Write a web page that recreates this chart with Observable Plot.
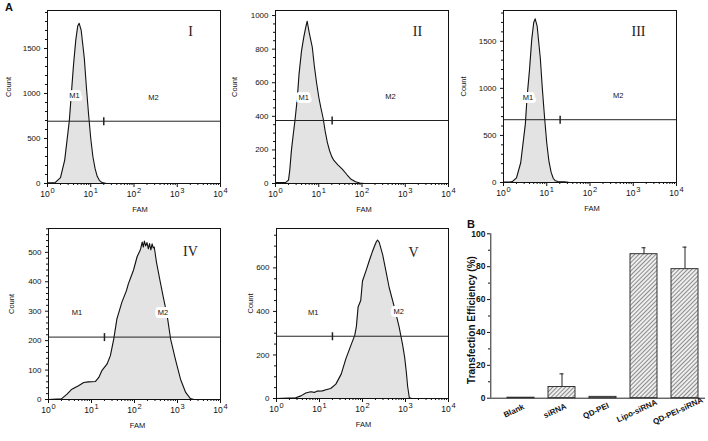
<!DOCTYPE html>
<html><head><meta charset="utf-8">
<script src="https://cdn.jsdelivr.net/npm/d3@7"></script>
<script src="https://cdn.jsdelivr.net/npm/@observablehq/plot@0.6"></script>
<style>
body{margin:0;background:#fff;}
#root{position:relative;width:708px;height:441px;overflow:hidden;font-family:"Liberation Sans",Arial,sans-serif;color:#111;}
#root svg{position:absolute;overflow:visible;}
.plabel{position:absolute;font-weight:bold;font-size:11px;line-height:11px;}
.ylab{position:absolute;font-weight:bold;font-size:10px;line-height:10px;white-space:nowrap;transform:translate(-50%,-50%) rotate(-90deg);}
</style></head><body><div id="root"></div>
<script>
// ---------- histogram data (FAM channel value, cell count) ----------
const famI   = [1, 1.26, 1.5, 2.0, 2.5, 3.2, 3.5, 4.0, 4.5, 5.0, 5.4, 6.0, 7.1, 7.9, 8.9, 10, 11.2, 12.6, 14.1, 15.8, 18.2, 22, 30, 10000];
const countI = [8, 8, 10, 65, 260, 700, 950, 1320, 1590, 1750, 1780, 1705, 1390, 1080, 770, 500, 300, 165, 80, 35, 10, 2, 0, 0];

const famII   = [1, 1.7, 2.0, 2.14, 2.34, 2.57, 2.82, 3.2, 3.5, 4.0, 4.5, 5.0, 5.4, 6.0, 7.1, 7.9, 8.9, 10, 11.2, 12.6, 14.1, 15.8, 17.8, 20, 22.4, 28, 35, 45, 56, 71, 89, 112, 10000];
const countII = [5, 5, 20, 80, 200, 290, 375, 510, 650, 790, 870, 930, 966, 900, 810, 700, 600, 515, 450, 390, 310, 245, 195, 160, 137, 110, 85, 52, 25, 10, 3, 0, 0];

const famIII   = [1, 1.4, 1.6, 2.0, 2.5, 3.2, 3.5, 4.0, 4.5, 5.0, 5.4, 6.0, 7.1, 7.9, 8.9, 10, 11.2, 12.6, 14.1, 15.8, 18.2, 25, 32, 40, 10000];
const countIII = [5, 5, 10, 50, 210, 620, 900, 1200, 1520, 1700, 1738, 1660, 1320, 1000, 690, 420, 230, 110, 45, 18, 10, 8, 2, 0, 0];

const famIV   = [1, 2.0, 2.7, 3.5, 5.0, 6.6, 8.5, 12.3, 14.8, 17.4, 22.9, 27.5, 33, 39, 51, 65, 72, 95, 115, 138, 151, 160, 170, 182, 195, 210, 224, 240, 257, 272, 288, 324, 398, 479, 575, 692, 891, 1175, 1549, 1995, 2400, 10000];
const countIV = [0, 2, 18, 35, 47, 58, 60, 61, 75, 98, 120, 149, 206, 274, 331, 370, 393, 440, 485, 510, 535, 518, 538, 522, 533, 512, 530, 508, 529, 515, 518, 467, 399, 340, 285, 205, 137, 69, 24, 3, 0, 0];

const famV   = [1, 2.8, 3.7, 4.8, 6.3, 7.6, 8.9, 11.7, 14.1, 18.2, 24, 32, 41, 54, 66, 72, 79, 91, 100, 120, 145, 170, 195, 210, 224, 245, 295, 347, 417, 550, 708, 851, 955, 1047, 1122, 1230, 1413, 10000];
const countV = [0, 3, 12, 25, 31, 28, 34, 35, 40, 46, 66, 112, 182, 245, 290, 330, 420, 450, 540, 585, 635, 675, 705, 720, 728, 717, 660, 590, 510, 420, 330, 250, 190, 120, 55, 3, 0, 0];

// gates (marker boundary on FAM, line level in counts)
const gateLevels = [692, 375, 667, 212, 286];
const gateMarkers = [20, 20.4, 20.4, 20, 20];

// axis ticks
const decades = [1, 10, 100, 1000, 10000];
const decadeExponents = ["0", "1", "2", "3", "4"];

// ---------- bar chart data ----------
const groups = ["Blank", "siRNA", "QD-PEI", "Lipo-siRNA", "QD-PEI-siRNA"];
const efficiency = [0.3, 6.8, 0.8, 87.6, 78.5];
const errorUp = [0, 8, 0, 3.9, 13.4];
const effTicks = [0, 20, 40, 60, 80, 100];

const root = document.getElementById("root");
const FONT = "Liberation Sans, Arial, sans-serif";
const minorX = decades.slice(0, 4).flatMap(d => [2, 3, 4, 5, 6, 7, 8, 9].map(k => d * k));
const vtick = {draw(ctx) { ctx.moveTo(0, -4); ctx.lineTo(0, 4); }};

const panels = [
  {id: "I",   fam: famI,   count: countI,   yMax: 1922, yMajor: 500, yMinor: 100, m1: [4.2, 978], m2: [282, 955], box: [47, 220, 10, 183],  rdx: -30, rdy: 16, cdx: 39, fdx: 6},
  {id: "II",  fam: famII,  count: countII,  yMax: 1030, yMajor: 200, yMinor: 50,  m1: [4.5, 514], m2: [457, 520], box: [275, 448, 10, 183], rdx: -31, rdy: 16, cdx: 41, fdx: 2},
  {id: "III", fam: famIII, count: countIII, yMax: 1827, yMajor: 500, yMinor: 100, m1: [3.7, 904], m2: [447, 922], box: [503, 676, 10, 182], rdx: -38, rdy: 16, cdx: 40, fdx: 2},
  {id: "IV",  fam: famIV,  count: countIV,  yMax: 581,  yMajor: 100, yMinor: 20,  m1: [4.6, 295], m2: [458, 295], box: [48, 220, 228, 399], rdx: -30, rdy: 18, cdx: 37, fdx: 3},
  {id: "V",   fam: famV,   count: countV,   yMax: 781,  yMajor: 200, yMinor: 50,  m1: [7.1, 393], m2: [692, 397], box: [276, 448, 228, 398], rdx: -35, rdy: 19, cdx: 26, fdx: 1}
];

panels.forEach((p, k) => {
  const [fx0, fx1, fy0, fy1] = p.box;
  const mL = 50, mR = 10, mT = 10, mB = 36;
  const data = p.fam.map((f, i) => ({fam: f, count: p.count[i]}));
  const majorY = d3.range(0, p.yMax + 1e-9, p.yMajor);
  const minorY = d3.range(0, p.yMax + 1e-9, p.yMinor).filter(v => v % p.yMajor !== 0);
  const svg = Plot.plot({
    width: fx1 - fx0 + mL + mR, height: fy1 - fy0 + mT + mB,
    marginLeft: mL, marginRight: mR, marginTop: mT, marginBottom: mB,
    style: {fontFamily: FONT, fontSize: "8px", background: "transparent", color: "#111", overflow: "visible"},
    x: {type: "log", domain: [1, 10000], label: null},
    y: {domain: [0, p.yMax], label: null},
    marks: [
      Plot.areaY(data, {x: "fam", y: "count", fill: "#e3e3e3"}),
      Plot.lineY(data, {x: "fam", y: "count", stroke: "#111", strokeWidth: 1.1}),
      Plot.ruleY([gateLevels[k]], {stroke: "#222", strokeWidth: 1}),
      Plot.dot([{x: gateMarkers[k], y: gateLevels[k]}], {x: "x", y: "y", symbol: vtick, fill: "none", stroke: "#222", r: 4}),
      Plot.text([{x: p.m1[0], y: p.m1[1], t: "M1"}, {x: p.m2[0], y: p.m2[1], t: "M2"}],
        {x: "x", y: "y", text: "t", fill: "#111", stroke: "white", strokeWidth: 6, fontSize: 7.5}),
      Plot.text([p.id], {text: d => d, frameAnchor: "top-right", dx: p.rdx, dy: p.rdy, textAnchor: "middle",
        fontFamily: "Liberation Serif, DejaVu Serif, serif", fontSize: 14, fill: "#222"}),
      Plot.text(["Count"], {text: d => d, frameAnchor: "left", dx: -p.cdx, rotate: -90, fontSize: 7.5}),
      Plot.text(["FAM"], {text: d => d, frameAnchor: "bottom", dy: 28, dx: p.fdx, fontSize: 7.5}),
      Plot.axisX({ticks: decades, tickFormat: d => "10^" + decadeExponents[decades.indexOf(d)], tickSize: 4, tickPadding: 3, label: null, fontSize: 8.5}),
      Plot.axisX({ticks: minorX, tickSize: 2, tickFormat: () => "", label: null}),
      Plot.axisY({ticks: majorY, tickSize: 3, tickPadding: 4, tickFormat: d => String(d), label: null}),
      Plot.axisY({ticks: minorY, tickSize: 2, tickFormat: () => "", label: null}),
      Plot.frame({stroke: "#111"})
    ]
  });
  // render "10^k" tick labels with a true superscript
  d3.select(svg).selectAll("text").each(function() {
    const m = /^10\^(\d)$/.exec(this.textContent);
    if (m) {
      this.textContent = "10";
      d3.select(this).append("tspan").attr("dx", "0.8").attr("dy", "-0.5em").attr("font-size", "7.5px").text(m[1]);
    }
  });
  svg.style.left = (fx0 - mL) + "px";
  svg.style.top = (fy0 - mT) + "px";
  root.appendChild(svg);
});

// ---------- bar chart B ----------
{
  const left = 440, top = 215, W = 268, H = 226;
  const bdata = groups.map((g, i) => ({g, v: efficiency[i], hi: efficiency[i] + errorUp[i], e: errorUp[i]}));
  const withErr = bdata.filter(d => d.e > 0);
  const svg = Plot.plot({
    width: W, height: H,
    marginLeft: 50, marginRight: 3, marginTop: 18.3, marginBottom: 43.3,
    style: {fontFamily: FONT, fontSize: "8.5px", background: "transparent", color: "#111", overflow: "visible"},
    x: {type: "band", domain: groups, range: [59.7, 264.7], paddingInner: 0.34, paddingOuter: 0.17, label: null, axis: null},
    y: {domain: [0, 100], label: null},
    marks: [
      Plot.barY(bdata, {x: "g", y: "v", fill: "url(#hatch)", stroke: "#333", strokeWidth: 1}),
      Plot.ruleX(withErr, {x: "g", y1: "v", y2: "hi", stroke: "#222", strokeWidth: 1}),
      Plot.tickY(withErr, {x: "g", y: "hi", stroke: "#222", strokeWidth: 1, insetLeft: 11.5, insetRight: 11.5}),
      Plot.ruleY([0], {stroke: "#222"}),
      Plot.ruleX([groups[0]], {dx: -30.2, stroke: "#222"}),
      Plot.axisY({ticks: effTicks, tickSize: 3, tickPadding: 2, fontWeight: "bold", label: null}),
      Plot.axisY({ticks: [10, 30, 50, 70, 90], tickSize: 2, tickFormat: () => "", label: null}),
      Plot.text(groups, {x: d => d, text: d => d, frameAnchor: "bottom", dy: 15, dx: -6, rotate: -25, fontWeight: "bold", fontSize: 8})
    ]
  });
  const defs = d3.select(svg).insert("defs", ":first-child");
  const pat = defs.append("pattern").attr("id", "hatch").attr("patternUnits", "userSpaceOnUse")
    .attr("width", 3).attr("height", 3).attr("patternTransform", "rotate(45)");
  pat.append("rect").attr("width", 3).attr("height", 3).attr("fill", "#eeeeee");
  pat.append("line").attr("x1", 0.5).attr("y1", 0).attr("x2", 0.5).attr("y2", 3).attr("stroke", "#8c8c8c").attr("stroke-width", 1);
  svg.style.left = left + "px";
  svg.style.top = top + "px";
  root.appendChild(svg);

  const yl = document.createElement("div");
  yl.className = "ylab"; yl.textContent = "Transfection Efficiency (%)";
  yl.style.left = "472px"; yl.style.top = "320px";
  root.appendChild(yl);
}

// panel letters
[["A", 5, 2], ["B", 467, 219]].forEach(([t, x, y]) => {
  const d = document.createElement("div");
  d.className = "plabel"; d.textContent = t;
  d.style.left = x + "px"; d.style.top = y + "px";
  root.appendChild(d);
});
</script>
</body></html>
